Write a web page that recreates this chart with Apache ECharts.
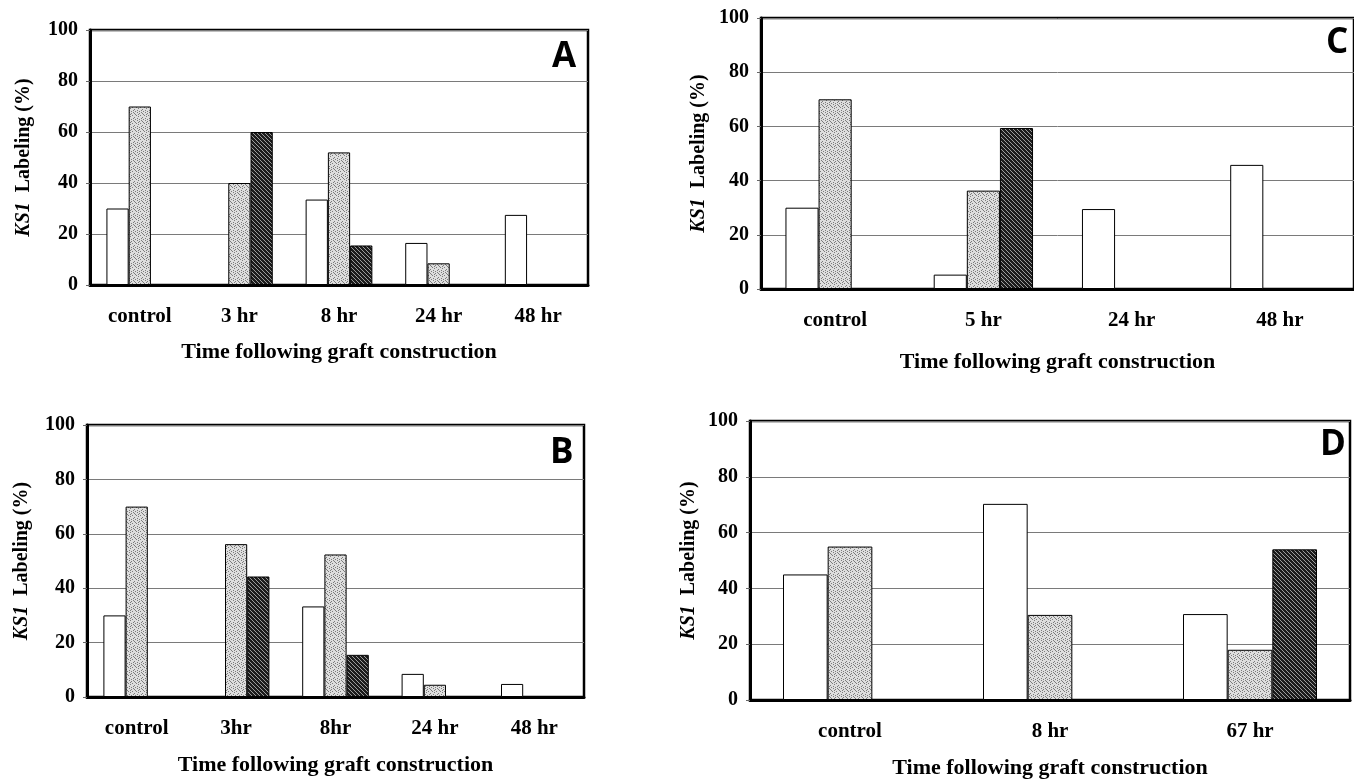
<!DOCTYPE html>
<html>
<head>
<meta charset="utf-8">
<script src="https://cdn.jsdelivr.net/npm/echarts@6/dist/echarts.min.js"></script>
<style>
  html, body { margin: 0; padding: 0; background: #fff; }
  #chart { width: 1354px; height: 780px; }
</style>
</head>
<body>
<div id="chart"></div>
<script>
// panel A
const catsA = ['control', '3 hr', '8 hr', '24 hr', '48 hr']
const whiteA = [30, 0, 33.5, 16.5, 27.5]
const stippleA = [70, 40, 52, 8.5, 0]
const darkA = [0, 60, 15.5, 0, 0]
// panel B
const catsB = ['control', '3hr', '8hr', '24 hr', '48 hr']
const whiteB = [30, 0, 33.3, 8.5, 4.8]
const stippleB = [70, 56.2, 52.4, 4.5, 0]
const darkB = [0, 44.3, 15.5, 0, 0]
// panel C
const catsC = ['control', '5 hr', '24 hr', '48 hr']
const whiteC = [30, 5.3, 29.5, 45.8]
const stippleC = [70, 36.3, 0, 0]
const darkC = [0, 59.4, 0, 0]
// panel D
const catsD = ['control', '8 hr', '67 hr']
const whiteD = [45, 70.3, 30.8]
const stippleD = [55, 30.5, 18]
const darkD = [0, 0, 54]

const yTicks = [0, 20, 40, 60, 80, 100]
const panelLetters = ['A', 'B', 'C', 'D']

const SERIF = "'Liberation Serif', 'Times New Roman', serif"

// fill textures for the grey stipple and the dark hatched bars
function stipple () {
  const c = document.createElement('canvas')
  c.width = 8; c.height = 8
  const g = c.getContext('2d')
  g.fillStyle = '#dedede'
  g.fillRect(0, 0, 8, 8)
  g.fillStyle = '#7c7c7c'
  ;[[1, 0], [5, 0], [3, 1], [7, 2], [0, 3], [4, 3], [2, 4], [6, 5], [1, 6], [5, 6], [3, 7], [7, 7], [6, 1], [2, 2]].forEach(p => g.fillRect(p[0], p[1], 1, 1))
  return c
}
function hatch () {
  const c = document.createElement('canvas')
  c.width = 4; c.height = 4
  const g = c.getContext('2d')
  g.fillStyle = '#1c1c1c'
  g.fillRect(0, 0, 4, 4)
  g.fillStyle = '#9c9c9c'
  for (let i = 0; i < 4; i++) g.fillRect(i, i, 1, 1)
  return c
}
const stippleFill = { image: stipple(), repeat: 'repeat' }
const hatchFill = { image: hatch(), repeat: 'repeat' }

const panels = [
  { cats: catsA, white: whiteA, stip: stippleA, dark: darkA, grid: { left: 90, top: 30, width: 498, height: 255 }, yGap: 56, xGap: 56, letter: { left: 552, top: 40 } },
  { cats: catsB, white: whiteB, stip: stippleB, dark: darkB, grid: { left: 87, top: 425, width: 497, height: 272 }, yGap: 55, xGap: 57, letter: { left: 550, top: 436 } },
  { cats: catsC, white: whiteC, stip: stippleC, dark: darkC, grid: { left: 761, top: 18, width: 600, height: 271 }, yGap: 52, xGap: 62, letter: { left: 1326, top: 26 } },
  { cats: catsD, white: whiteD, stip: stippleD, dark: darkD, grid: { left: 750, top: 421, width: 600, height: 281 }, yGap: 51, xGap: 57, letter: { left: 1320, top: 428 } }
]

const grids = []
const xAxes = []
const yAxes = []
const series = []
const titles = []

panels.forEach((p, i) => {
  grids.push(Object.assign({ show: true, borderColor: '#000', borderWidth: 2.5, backgroundColor: '#fff' }, p.grid))
  xAxes.push({
    type: 'category',
    gridIndex: i,
    data: p.cats,
    axisLine: { lineStyle: { color: '#000', width: 3 } },
    axisTick: { show: false },
    axisLabel: { color: '#000', fontFamily: SERIF, fontWeight: 'bold', fontSize: 21, margin: 21 },
    name: 'Time following graft construction',
    nameLocation: 'middle',
    nameGap: p.xGap,
    nameTextStyle: { color: '#000', fontFamily: SERIF, fontWeight: 'bold', fontSize: 22 }
  })
  yAxes.push({
    type: 'value',
    gridIndex: i,
    min: yTicks[0],
    max: yTicks[yTicks.length - 1],
    interval: yTicks[1] - yTicks[0],
    axisLine: { show: true, lineStyle: { color: '#000', width: 3 } },
    axisTick: { show: true, length: 4, lineStyle: { color: '#666' } },
    axisLabel: { color: '#000', fontFamily: SERIF, fontWeight: 'bold', fontSize: 20, margin: 12 },
    splitLine: { show: true, lineStyle: { color: '#7a7a7a', width: 1 } },
    name: '{i|KS1}  Labeling (%)',
    nameLocation: 'middle',
    nameGap: p.yGap,
    nameTextStyle: {
      color: '#000', fontFamily: SERIF, fontWeight: 'bold', fontSize: 20,
      rich: { i: { fontFamily: SERIF, fontStyle: 'italic', fontWeight: 'bold', fontSize: 20, color: '#000' } }
    }
  })
  const common = { type: 'bar', xAxisIndex: i, yAxisIndex: i, barGap: '0%', barCategoryGap: '33%', animation: false }
  series.push(Object.assign({ name: 'white', data: p.white, itemStyle: { color: '#fff', borderColor: '#000', borderWidth: 1 } }, common))
  series.push(Object.assign({ name: 'stipple', data: p.stip, itemStyle: { color: stippleFill, borderColor: '#000', borderWidth: 1 } }, common))
  series.push(Object.assign({ name: 'dark', data: p.dark, itemStyle: { color: hatchFill, borderColor: '#000', borderWidth: 1 } }, common))
  titles.push({
    text: panelLetters[i],
    left: p.letter.left,
    top: p.letter.top,
    padding: 0,
    textStyle: { fontFamily: "'Open Sans', 'DejaVu Sans', sans-serif", fontWeight: 'bold', fontSize: 35, color: '#000' }
  })
})

const myChart = echarts.init(document.getElementById('chart'), null, { renderer: 'canvas' })
myChart.setOption({
  backgroundColor: '#fff',
  animation: false,
  title: titles,
  grid: grids,
  xAxis: xAxes,
  yAxis: yAxes,
  series: series
})
</script>
</body>
</html>
